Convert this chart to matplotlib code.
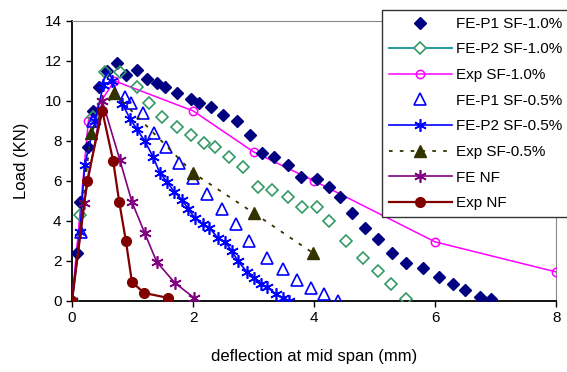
import matplotlib
matplotlib.use("Agg")
import matplotlib.pyplot as plt
from matplotlib.lines import Line2D

plt.rcParams['font.family'] = ['Liberation Sans', 'DejaVu Sans']

# FE-P1 SF-1.0%
p1_10_x = [0, 0.08, 0.13, 0.26, 0.35, 0.45, 0.58, 0.74, 0.9, 1.07, 1.24, 1.4, 1.54, 1.73, 1.97, 2.1,
           2.3, 2.5, 2.73, 2.94, 3.14, 3.34, 3.57, 3.79, 4.05, 4.25, 4.43, 4.63, 4.84, 5.06, 5.29,
           5.52, 5.8, 6.07, 6.3, 6.5, 6.74, 6.92]
p1_10_y = [0, 2.4, 4.95, 7.7, 9.5, 10.7, 11.5, 11.9, 11.3, 11.55, 11.1, 10.9, 10.7, 10.4, 10.1, 9.9,
           9.7, 9.3, 9.0, 8.3, 7.4, 7.2, 6.8, 6.2, 6.1, 5.7, 5.2, 4.4, 3.65, 3.1, 2.4,
           1.9, 1.65, 1.2, 0.85, 0.55, 0.2, 0.1]
# FE-P2 SF-1.0%
p2_10_x = [0, 0.13, 0.34, 0.55, 0.79, 1.07, 1.27, 1.49, 1.73, 1.97, 2.18, 2.36, 2.6, 2.83, 3.07, 3.3,
           3.57, 3.8, 4.05, 4.25, 4.53, 4.81, 5.06, 5.27, 5.52]
p2_10_y = [0, 4.3, 9.2, 11.45, 11.45, 10.7, 9.9, 9.2, 8.7, 8.3, 7.9, 7.7, 7.2, 6.7, 5.7, 5.55,
           5.2, 4.7, 4.7, 4.0, 3.0, 2.15, 1.5, 0.85, 0.1]
# Exp SF-1.0%
exp_10_x = [0, 0.27, 0.7, 2.0, 3.0, 4.0, 6.0, 8.0]
exp_10_y = [0, 9.0, 11.0, 9.5, 7.45, 6.0, 2.95, 1.45]
# FE-P1 SF-0.5%
p1_05_x = [0, 0.15, 0.35, 0.6, 0.88, 0.97, 1.17, 1.36, 1.55, 1.77, 2.0, 2.23, 2.48, 2.71, 2.93,
           3.22, 3.49, 3.72, 3.95, 4.17, 4.4]
p1_05_y = [0, 3.45, 9.0, 11.2, 10.2, 9.9, 9.4, 8.4, 7.7, 6.9, 6.15, 5.35, 4.6, 3.85, 3.0,
           2.15, 1.6, 1.05, 0.65, 0.35, 0.0]
# FE-P2 SF-0.5%
p2_05_x = [0, 0.13, 0.21, 0.38, 0.52, 0.66, 0.83, 0.96, 1.07, 1.2, 1.34, 1.45, 1.57, 1.69, 1.82,
           1.92, 2.03, 2.16, 2.27, 2.41, 2.53, 2.64, 2.74, 2.89, 3.01, 3.12, 3.22, 3.37, 3.49, 3.59]
p2_05_y = [0, 3.45, 6.8, 9.0, 10.8, 11.0, 9.85, 9.1, 8.6, 8.0, 7.2, 6.4, 5.95, 5.45, 5.05,
           4.6, 4.15, 3.85, 3.65, 3.15, 2.95, 2.5, 2.0, 1.45, 1.15, 0.85, 0.7, 0.35, 0.15, 0]
# Exp SF-0.5%
exp_05_x = [0, 0.31, 0.69, 2.0, 3.0, 3.98]
exp_05_y = [0, 8.4, 10.4, 6.4, 4.4, 2.4]
# FE NF
fe_nf_x = [0, 0.2, 0.5, 0.79, 0.99, 1.2, 1.4, 1.7, 2.02]
fe_nf_y = [0, 4.9, 10.0, 7.05, 4.95, 3.4, 1.95, 0.9, 0.15]
# Exp NF
exp_nf_x = [0, 0.25, 0.5, 0.68, 0.78, 0.89, 0.99, 1.19, 1.59]
exp_nf_y = [0, 6.0, 9.5, 7.0, 4.95, 3.0, 0.95, 0.4, 0.15]

fig = plt.figure(figsize=(5.67, 3.72), dpi=100)
ax = fig.add_axes([0.127, 0.191, 0.854, 0.753])

ax.plot(exp_10_x, exp_10_y, color='#FF00FF', lw=1.1, marker='o', ms=6, mfc='none', mew=1.1, zorder=3)
ax.plot(exp_05_x, exp_05_y, color='#333300', lw=1.3, ls=(0, (2, 4)), marker='^', ms=8, zorder=4)
ax.plot(p1_10_x, p1_10_y, ls='none', marker='D', color='#000080', ms=6.5, zorder=3)
ax.plot(p2_10_x, p2_10_y, ls='none', marker='D', color='#339966', ms=6, mfc='none', mew=1.2, zorder=3)
ax.plot(p1_05_x, p1_05_y, ls='none', marker='^', color='#0000FF', ms=8.5, mfc='none', mew=1.2, zorder=3)
ax.plot(p2_05_x, p2_05_y, color='#0000FF', lw=1.2, marker=(6, 2, 0), ms=9, mew=1.2, zorder=3)
ax.plot(fe_nf_x, fe_nf_y, color='#800080', lw=1.2, marker=(6, 2, 0), ms=9, mew=1.2, zorder=3)
ax.plot(exp_nf_x, exp_nf_y, color='#800000', lw=1.6, marker='o', ms=7, zorder=5)

ax.set_xlim(0, 8)
ax.set_ylim(0, 14)
ax.set_xticks([0, 2, 4, 6, 8])
ax.set_yticks(range(0, 15, 2))
ax.tick_params(direction='out', length=4, width=1, labelsize=11)
for s in ['top', 'right']:
    ax.spines[s].set_color('#888888')
for s in ['left', 'bottom']:
    ax.spines[s].set_linewidth(1.3)
ax.set_xlabel('deflection at mid span (mm)', fontsize=12, labelpad=17)
ax.set_ylabel('Load (KN)', fontsize=12, labelpad=11)

handles = [
    Line2D([], [], ls='none', marker='D', color='#000080', ms=6.5),
    Line2D([], [], color='#2E9E9E', lw=1.5, marker='D', mec='#339966', mfc='white', ms=6, mew=1.2),
    Line2D([], [], color='#FF00FF', lw=1.1, marker='o', mfc='none', ms=6, mew=1.1),
    Line2D([], [], ls='none', marker='^', color='#0000FF', mfc='none', ms=8.5, mew=1.2),
    Line2D([], [], color='#0000FF', lw=1.2, marker=(6, 2, 0), ms=9, mew=1.2),
    Line2D([], [], color='#333300', lw=1.3, ls=(0, (2, 4)), marker='^', ms=8),
    Line2D([], [], color='#800080', lw=1.2, marker=(6, 2, 0), ms=9, mew=1.2),
    Line2D([], [], color='#800000', lw=1.6, marker='o', ms=7),
]
labels = ['FE-P1 SF-1.0%', 'FE-P2 SF-1.0%', 'Exp SF-1.0%', 'FE-P1 SF-0.5%',
          'FE-P2 SF-0.5%', 'Exp SF-0.5%', 'FE NF', 'Exp NF']
leg = fig.legend(handles, labels, loc='upper left', bbox_to_anchor=(382 / 567, 1 - 10 / 372),
                 fontsize=11, frameon=True, fancybox=False, framealpha=1, edgecolor='#333333',
                 handlelength=4.1, labelspacing=0.76, borderpad=0.45, handletextpad=0.3,
                 borderaxespad=0)
leg.get_frame().set_linewidth(1.0)

fig.savefig('out.png', dpi=100)
